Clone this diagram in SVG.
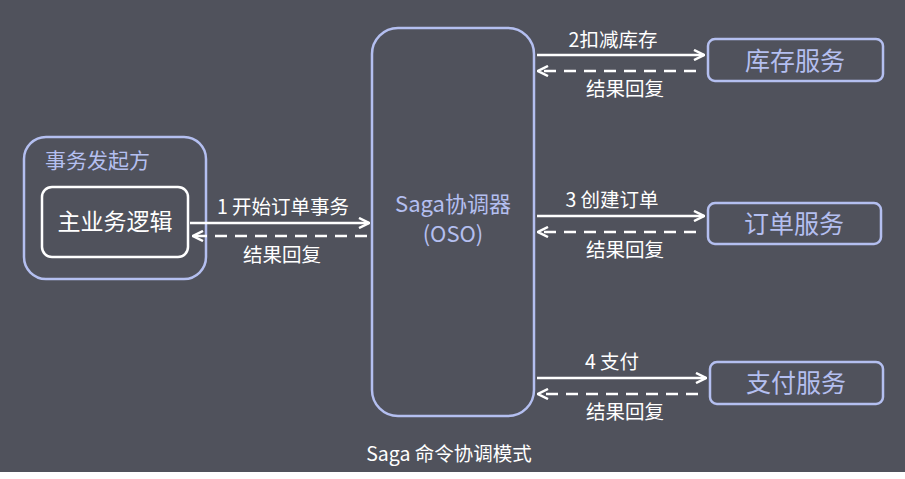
<svg xmlns="http://www.w3.org/2000/svg" width="905" height="479" viewBox="0 0 905 479">
<style>
.t{font-family:"Noto Sans CJK SC","Noto Sans",sans-serif;fill:#fff}
.b{fill:none;stroke:#b4bff0;stroke-width:2.5}
.l{stroke:#fff;stroke-width:2.5;fill:none}
.d{stroke:#fff;stroke-width:2.5;fill:none;stroke-dasharray:12 8}
</style>
<defs><marker id="a" viewBox="0 0 10 10" refX="9" refY="5" markerWidth="5" markerHeight="5" orient="auto-start-reverse"><path d="M1 1L9 5L1 9" fill="none" stroke="#fff" stroke-width="2"/></marker></defs>
<rect width="905" height="479" fill="#fff"/>
<rect width="905" height="472" fill="#50525c"/>
<g id="initiator"><rect class="b" x="24" y="137" width="182" height="142" rx="22"/><text class="t" x="45" y="168" font-size="21" style="fill:#b4bff0">事务发起方</text></g>
<g id="main"><rect x="42" y="187" width="146" height="70" rx="10" fill="none" stroke="#fff" stroke-width="2.5"/><text class="t" x="115" y="230" font-size="23" text-anchor="middle">主业务逻辑</text></g>
<g id="oso"><rect class="b" x="372" y="28" width="162" height="388" rx="26"/><text class="t" x="453" y="212" font-size="22" text-anchor="middle" style="fill:#b4bff0">Saga协调器</text><text class="t" x="453" y="242" font-size="22" text-anchor="middle" style="fill:#b4bff0">(OSO)</text></g>
<g id="inv"><rect class="b" x="708" y="39" width="175" height="42" rx="7"/><text class="t" x="795" y="70" font-size="25" text-anchor="middle" style="fill:#b4bff0">库存服务</text></g>
<g id="ord"><rect class="b" x="708" y="203" width="173" height="41" rx="7"/><text class="t" x="794" y="233" font-size="25" text-anchor="middle" style="fill:#b4bff0">订单服务</text></g>
<g id="pay"><rect class="b" x="710" y="362" width="173" height="42" rx="7"/><text class="t" x="796" y="392" font-size="25" text-anchor="middle" style="fill:#b4bff0">支付服务</text></g>
<g id="connectors">
<line class="l" x1="190" y1="223" x2="369" y2="223" marker-end="url(#a)"/>
<line class="d" x1="367" y1="236" x2="193" y2="236" marker-end="url(#a)"/>
<line class="l" x1="537" y1="55" x2="704" y2="55" marker-end="url(#a)"/>
<line class="d" x1="696" y1="71" x2="538" y2="71" marker-end="url(#a)"/>
<line class="l" x1="537" y1="216" x2="704" y2="216" marker-end="url(#a)"/>
<line class="d" x1="696" y1="232" x2="538" y2="232" marker-end="url(#a)"/>
<line class="l" x1="537" y1="378" x2="706" y2="378" marker-end="url(#a)"/>
<line class="d" x1="698" y1="394" x2="538" y2="394" marker-end="url(#a)"/>
</g>
<g font-size="19.5">
<text class="t" x="283" y="214" text-anchor="middle">1 开始订单事务</text>
<text class="t" x="282" y="262" text-anchor="middle">结果回复</text>
<text class="t" x="613" y="47" text-anchor="middle">2扣减库存</text>
<text class="t" x="625" y="96" text-anchor="middle">结果回复</text>
<text class="t" x="612" y="207" text-anchor="middle">3 创建订单</text>
<text class="t" x="625" y="257" text-anchor="middle">结果回复</text>
<text class="t" x="612" y="369" text-anchor="middle">4 支付</text>
<text class="t" x="625" y="419" text-anchor="middle">结果回复</text>
<text class="t" x="449" y="461" text-anchor="middle">Saga 命令协调模式</text>
</g>
</svg>
